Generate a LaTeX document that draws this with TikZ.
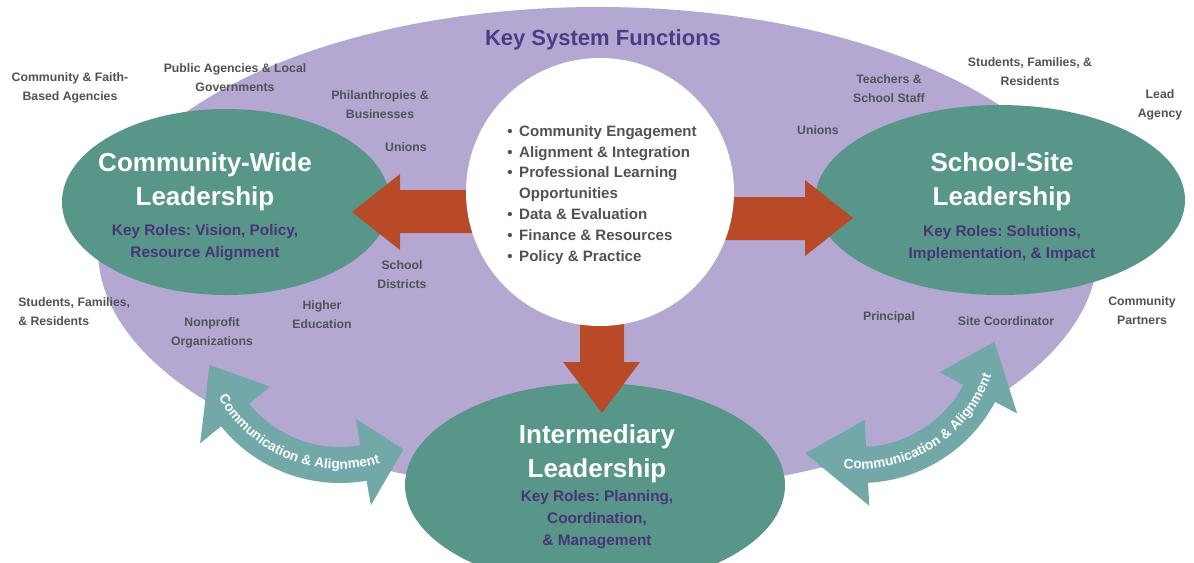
\documentclass[tikz,border=0pt]{standalone}
\usepackage{fontspec}
\setmainfont{Liberation Sans}
\usetikzlibrary{decorations.text}
\frenchspacing

\definecolor{keypurple}{RGB}{180,168,211}
\definecolor{leadgreen}{RGB}{88,150,137}
\definecolor{flowred}{RGB}{184,74,40}
\definecolor{linkteal}{RGB}{114,168,168}
\definecolor{rolepurple}{RGB}{72,52,120}
\definecolor{titlepurple}{RGB}{80,58,136}
\definecolor{labelgray}{RGB}{82,82,82}

\begin{document}
\begin{tikzpicture}[x=0.75pt,y=0.75pt,yscale=-1,xscale=1,
  actor/.style={anchor=base, align=center, text=labelgray, inner sep=0pt,
    font=\bfseries\fontsize{9.2}{13.9}\selectfont},
  leadtitle/.style={anchor=base, align=center, text=white, inner sep=0pt,
    font=\bfseries\fontsize{19.5}{25}\selectfont},
  roles/.style={anchor=base, align=center, text=rolepurple, inner sep=0pt,
    font=\bfseries\fontsize{11.5}{16.5}\selectfont},
  commtext/.style={decorate, decoration={text along path, text align=center,
    text color=white, text={|\bfseries\fontsize{10.3}{12}\selectfont|Communication {\&} Alignment}}}]
\clip (0,0) rectangle (1194,562);

%Shape: Ellipse [key system functions]
\fill[keypurple] (598,250) ellipse [x radius=500, y radius=243];

%Shape: Ellipse [leadership levels]
\coordinate (cwide) at (226,202);
\coordinate (ssite) at (1000,200);
\coordinate (inter) at (595,485);
\fill[leadgreen] (cwide) ellipse [x radius=164, y radius=93];
\fill[leadgreen] (ssite) ellipse [x radius=185, y radius=95];
\fill[leadgreen] (inter) ellipse [x radius=190, y radius=102];

%Block Arrows
\fill[flowred] (540,190) -- (400,190) -- (400,174) -- (352,212) -- (400,250) -- (400,233) -- (540,233) -- cycle;
\fill[flowred] (660,197) -- (805,197) -- (805,180) -- (853,218) -- (805,256) -- (805,240) -- (660,240) -- cycle;
\fill[flowred] (580,250) -- (580,362) -- (563,362) -- (602,413) -- (640,362) -- (624,362) -- (624,250) -- cycle;

%Shape: Circle
\coordinate (hub) at (600,192);
\fill[white] (hub) circle [radius=134];

%Curved Arrows
\begin{scope}[shift={(340,330)}]
\fill[linkteal] (141:153) -- (141:180) -- (165:135) -- (141:90) -- (141:117)
  arc[start angle=141, end angle=80, radius=117] -- (80:90) -- (62:135) -- (80:178) -- (80:153)
  arc[start angle=80, end angle=141, radius=153] -- cycle;
\path[commtext] (158:139) arc[start angle=158, end angle=66, radius=139];
\end{scope}
\begin{scope}[shift={(860,330)}]
\fill[linkteal] (87:153) -- (87:176) -- (114:135) -- (87:90) -- (87:117)
  arc[start angle=87, end angle=28, radius=117] -- (28:90) -- (5:135) -- (28:178) -- (28:153)
  arc[start angle=28, end angle=87, radius=153] -- cycle;
\path[commtext] (108:139) arc[start angle=108, end angle=8, radius=139];
\end{scope}

% Text Node
\node[anchor=base, text=titlepurple, inner sep=0pt, font=\bfseries\fontsize{16.5}{20}\selectfont] (keysys) at (603,45) {Key System Functions};
% Text Node
\node[anchor=base west, align=left, text=labelgray, inner sep=0pt, font=\bfseries\fontsize{11.3}{15.6}\selectfont] (functions) at (507,261)
  {\textbullet\hspace{5pt}Community Engagement\\
   \textbullet\hspace{5pt}Alignment \& Integration\\
   \textbullet\hspace{5pt}Professional Learning\\
   \phantom{\textbullet}\hspace{5pt}Opportunities\\
   \textbullet\hspace{5pt}Data \& Evaluation\\
   \textbullet\hspace{5pt}Finance \& Resources\\
   \textbullet\hspace{5pt}Policy \& Practice};

% Text Node
\node[leadtitle] (cwtitle) at (205,205) {Community-Wide\\Leadership};
\node[roles] (cwroles) at (205,257) {Key Roles: Vision, Policy,\\Resource Alignment};
\node[leadtitle] (sstitle) at (1002,205) {School-Site\\Leadership};
\node[roles] (ssroles) at (1002,258) {Key Roles: Solutions,\\Implementation, \& Impact};
\node[leadtitle] (intitle) at (597,477) {Intermediary\\Leadership};
\node[roles] (inroles) at (597,545) {Key Roles: Planning,\\Coordination,\\\& Management};

% Text Node
\node[actor] (faith) at (70,100) {Community \& Faith-\\Based Agencies};
\node[actor] (public) at (235,91) {Public Agencies \& Local\\Governments};
\node[actor] (philan) at (380,118) {Philanthropies \&\\Businesses};
\node[actor] (unionsl) at (406,151.5) {Unions};
\node[actor] (district) at (402,288) {School\\Districts};
\node[actor] (higher) at (322,328) {Higher\\Education};
\node[actor] (nonprof) at (212,345) {Nonprofit\\Organizations};
\node[actor, anchor=base west, align=left] (famleft) at (18,325) {Students, Families,\\\& Residents};
\node[actor] (teachers) at (889,102) {Teachers \&\\School Staff};
\node[actor] (famright) at (1030,85) {Students, Families, \&\\Residents};
\node[actor] (lead) at (1160,117) {Lead\\Agency};
\node[actor] (unionsr) at (818,134.5) {Unions};
\node[actor] (principal) at (889,320.5) {Principal};
\node[actor] (sitecoord) at (1006,325.5) {Site Coordinator};
\node[actor] (partners) at (1142,324) {Community\\Partners};

\end{tikzpicture}
\end{document}
